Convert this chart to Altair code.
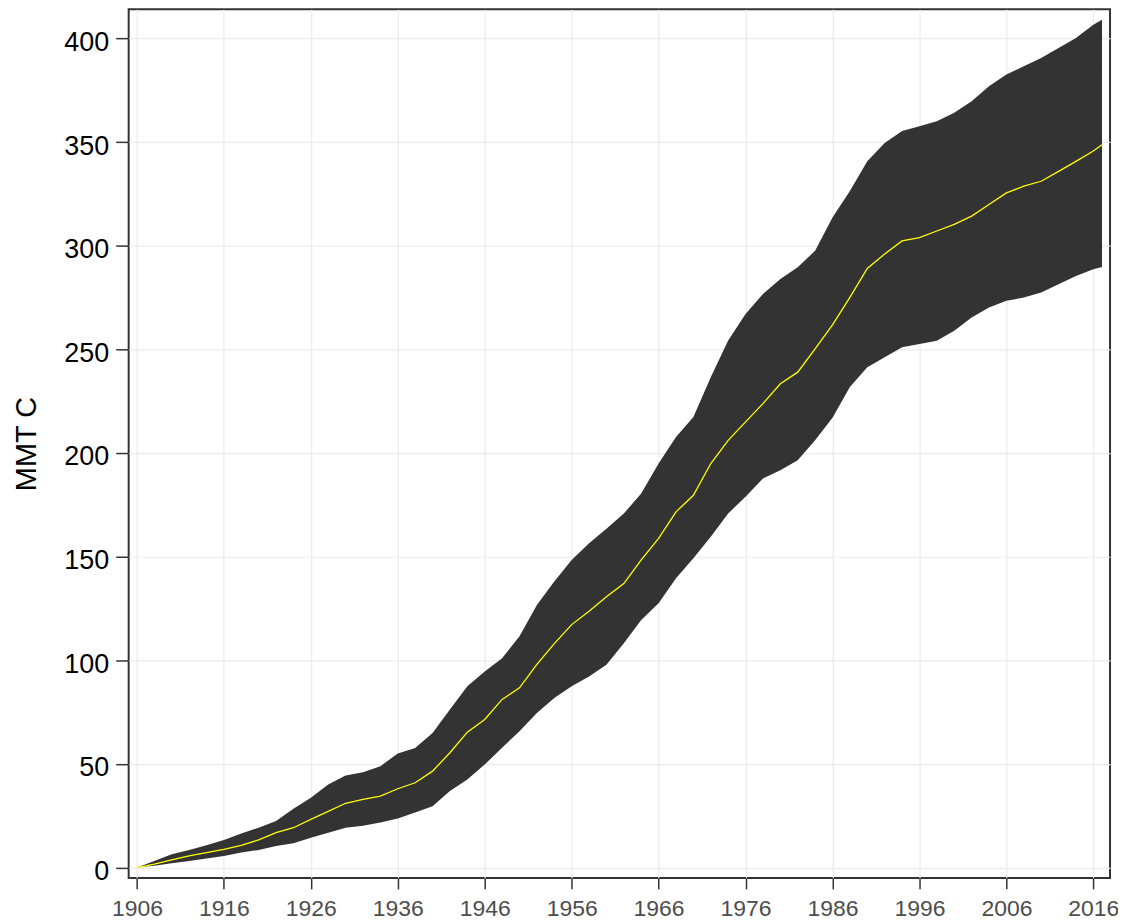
import altair as alt
import pandas as pd

years = [1906, 1908, 1910, 1912, 1914, 1916, 1918, 1920, 1922, 1924, 1926, 1928,
         1930, 1932, 1934, 1936, 1938, 1940, 1942, 1944, 1946, 1948, 1950, 1952,
         1954, 1956, 1958, 1960, 1962, 1964, 1966, 1968, 1970, 1972, 1974, 1976,
         1978, 1980, 1982, 1984, 1986, 1988, 1990, 1992, 1994, 1996, 1998, 2000,
         2002, 2004, 2006, 2008, 2010, 2012, 2014, 2016, 2017]

mean = [0.0, 1.6, 3.7, 5.6, 7.2, 8.8, 10.7, 13.3, 16.8, 19.2, 23.2, 27.1,
        31.0, 32.9, 34.5, 38.0, 40.9, 46.5, 55.4, 65.3, 71.4, 81.1, 86.7, 98.0,
        108.0, 117.2, 123.6, 130.6, 137.0, 148.4, 158.8, 171.6, 179.6, 194.9, 206.1, 215.0,
        223.8, 233.4, 239.0, 250.2, 261.8, 275.1, 289.0, 296.0, 302.3, 303.9, 307.1, 310.3,
        314.3, 319.9, 325.5, 328.7, 331.1, 335.9, 340.7, 345.7, 348.7]

lower = [0.0, 0.8, 2.1, 3.2, 4.3, 5.6, 7.2, 8.5, 10.4, 11.7, 14.4, 16.8,
         19.2, 20.1, 21.7, 23.7, 26.5, 29.6, 36.9, 42.5, 49.7, 57.8, 65.8, 74.6,
         81.8, 87.4, 92.2, 97.8, 108.2, 119.4, 127.5, 139.6, 149.2, 159.6, 170.8, 178.9,
         187.7, 191.7, 196.5, 206.1, 217.0, 231.8, 241.4, 246.2, 251.0, 252.6, 254.2, 259.0,
         265.4, 270.2, 273.4, 275.0, 277.4, 281.4, 285.4, 288.6, 289.7]

upper = [0.0, 3.2, 6.4, 8.5, 10.7, 13.3, 16.4, 19.2, 22.5, 28.4, 33.7, 40.1,
         44.4, 46.0, 48.9, 55.0, 57.7, 64.9, 76.2, 87.4, 94.6, 101.0, 111.6, 126.7,
         138.0, 148.4, 156.4, 163.5, 170.8, 180.4, 194.9, 207.7, 217.4, 236.6, 254.3, 267.1,
         276.7, 283.9, 289.6, 297.6, 313.6, 326.4, 340.8, 349.6, 355.3, 357.7, 360.1, 364.1,
         369.7, 376.9, 382.6, 386.6, 390.6, 395.4, 400.2, 406.6, 409.0]

x_ticks = [1906, 1916, 1926, 1936, 1946, 1956, 1966, 1976, 1986, 1996, 2006, 2016]
y_ticks = [0, 50, 100, 150, 200, 250, 300, 350, 400]

df = pd.DataFrame({"year": years, "mean": mean, "lower": lower, "upper": upper})

FONT = "Liberation Sans"

x_scale = alt.Scale(domain=[1905.05, 2017.92], nice=False, zero=False)
y_scale = alt.Scale(domain=[-5.0, 414.1], nice=False, zero=False)

x_axis = alt.Axis(values=x_ticks, format="d", title=None, labelFontSize=23,
                  labelColor="#4d4d4d", tickSize=11, labelPadding=9,
                  labelBaseline="top", labelFlush=False, labelOverlap=False)
y_axis = alt.Axis(values=y_ticks, format="d", title="MMT C", labelFontSize=27,
                  labelColor="#000000", tickSize=13, labelPadding=7,
                  labelBaseline="alphabetic", labelOffset=12, labelFlush=False,
                  labelOverlap=False, titleFontSize=29, titleColor="#000000",
                  titleFontWeight="normal", titleAngle=270, titleBaseline="alphabetic",
                  titleAlign="center", titleX=-93, titleY=435.5)

band = alt.Chart(df).mark_area(color="#333333", opacity=1).encode(
    x=alt.X("year:Q", scale=x_scale, axis=x_axis),
    y=alt.Y("lower:Q", scale=y_scale, axis=y_axis),
    y2="upper:Q",
)

line = alt.Chart(df).mark_line(color="#ffff00", strokeWidth=1.3).encode(
    x=alt.X("year:Q", scale=x_scale, axis=x_axis),
    y=alt.Y("mean:Q", scale=y_scale, axis=y_axis),
)

chart = (band + line).properties(
    width=984,
    height=871,
    autosize=alt.AutoSizeParams(type="none"),
    padding={"left": 121, "top": 0, "right": 8, "bottom": 44},
    background="#ffffff",
).configure_view(
    stroke="#333333", strokeWidth=2
).configure_axis(
    domain=False, grid=True, gridColor="#ebebeb", gridWidth=1.2,
    tickColor="#333333", tickWidth=1.5, labelFont=FONT, titleFont=FONT,
)

chart.save("out.html", embed_options={"renderer": "svg", "actions": False})
